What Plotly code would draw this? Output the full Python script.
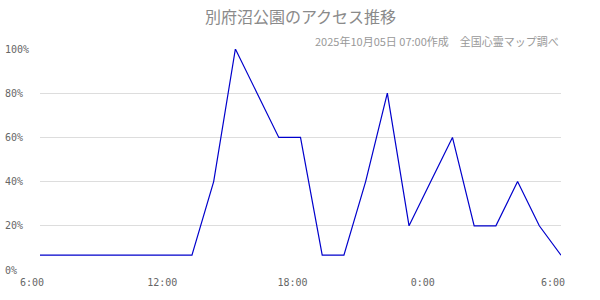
import plotly.graph_objects as go

# Hourly slots from 6:00 to 6:00 next day (25 points)
hours = list(range(25))
access_pct = [6.7, 6.7, 6.7, 6.7, 6.7, 6.7, 6.7, 6.7,
              40, 100, 80, 60, 60, 6.7, 6.7, 40, 80,
              20, 40, 60, 20, 20, 40, 20, 6.7]

x_tick_vals = [0, 6, 12, 18, 24]
x_tick_text = ["6:00", "12:00", "18:00", "0:00", "6:00"]
y_tick_vals = [0, 20, 40, 60, 80, 100]
y_tick_text = ["0%", "20%", "40%", "60%", "80%", "100%"]

title_text = "別府沼公園のアクセス推移"
subtitle_text = "2025年10月05日 07:00作成　全国心霊マップ調べ"

# pad y labels so they appear left-aligned in a monospace font
width = max(len(t) for t in y_tick_text)
y_tick_text_padded = [t + "\u00a0" * (width - len(t)) for t in y_tick_text]

fig = go.Figure()
fig.add_trace(go.Scatter(
    x=hours, y=access_pct, mode="lines",
    line=dict(color="#0000cc", width=1.2),
    hoverinfo="skip", showlegend=False,
))

tick_font = dict(family="DejaVu Sans Mono", size=10, color="#666666")

fig.update_layout(
    width=600, height=300,
    margin=dict(l=40, r=39, t=49, b=30, autoexpand=False),
    paper_bgcolor="white", plot_bgcolor="white",
    title=dict(text=title_text, x=0.5, xref="paper", xanchor="center",
               y=1 - 17 / 300, yref="container", yanchor="middle",
               font=dict(family="Noto Sans CJK JP", size=16, color="#8a8a8a")),
    xaxis=dict(range=[0, 24], tickvals=x_tick_vals, ticktext=x_tick_text,
               showgrid=False, zeroline=False, showline=False, automargin=False,
               ticks="", tickfont=tick_font, ticklabelshift=-8,
               ticklabelstandoff=5),
    yaxis=dict(range=[0, 100], tickvals=y_tick_vals, ticktext=y_tick_text_padded,
               showgrid=True, gridcolor="#dddddd", gridwidth=1, automargin=False,
               zeroline=False, showline=False, ticks="",
               tickfont=tick_font, ticklabelstandoff=10),
    annotations=[dict(text=subtitle_text, x=1, xref="paper", xanchor="right",
                      y=1 + 8 / 221, yref="paper", yanchor="middle",
                      showarrow=False,
                      font=dict(family="Noto Sans CJK JP", size=11, color="#999999"))],
)

fig.write_html("out.html")
